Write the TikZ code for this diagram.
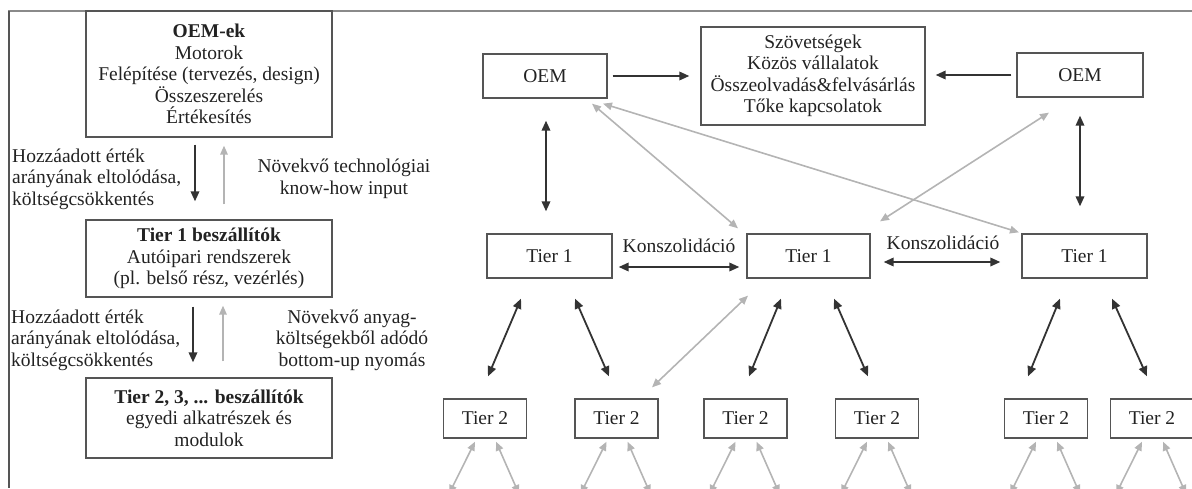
\documentclass[tikz,border=0pt]{standalone}
\usepackage{fontspec}
\setmainfont{Liberation Serif}
\usetikzlibrary{arrows.meta}
\definecolor{ink}{HTML}{222222}
\definecolor{dk}{HTML}{333333}
\definecolor{lg}{HTML}{B4B4B4}
\definecolor{bd}{HTML}{555555}
\definecolor{fr}{HTML}{8A8A8A}
\begin{document}
\begin{tikzpicture}[x=1pt,y=-1pt,
 txt/.style={text=ink,font=\fontsize{19.5}{21.5}\selectfont},
 box/.style={txt,draw=bd,line width=1.3pt,inner sep=0pt,align=center},
 lbl/.style={txt,inner sep=0pt},
 bt/.tip={Triangle[length=10pt,width=8.5pt]},
 gt/.tip={Triangle[length=9pt,width=7.5pt]},
 blkone/.style={draw=dk,line width=1.8pt,-bt},
 blkboth/.style={draw=dk,line width=1.8pt,bt-bt},
 gryone/.style={draw=lg,line width=1.6pt,-gt},
 gryboth/.style={draw=lg,line width=1.6pt,gt-gt}]
\useasboundingbox (0,0) rectangle (1192,488);
\clip (0,0) rectangle (1192,488);
% frame
\draw[fr,line width=2pt] (8,11) -- (1192,11);
\draw[bd,line width=2pt] (9,11) -- (9,488);
% left column
\node[box,minimum width=246pt,minimum height=126pt] (oemek) at (209,74)
 {\textbf{OEM-ek}\\Motorok\\Felépítése (tervezés, design)\\Összeszerelés\\Értékesítés};
\node[box,minimum width=246pt,minimum height=77pt] (t1b) at (209,258.5)
 {\textbf{Tier 1 beszállítók}\\Autóipari rendszerek\\(pl. belső rész, vezérlés)};
\node[box,minimum width=246pt,minimum height=80pt] (t2b) at (209,418)
 {\textbf{Tier 2, 3, ... beszállítók}\\egyedi alkatrészek és\\modulok};
\node[lbl,anchor=west,align=left] (l1) at (12,179)
 {Hozzáadott érték\\arányának eltolódása,\\költségcsökkentés};
\node[lbl,align=center] (r1) at (344,179)
 {Növekvő technológiai\\know-how input};
\node[lbl,anchor=west,align=left] (l2) at (11,340)
 {Hozzáadott érték\\arányának eltolódása,\\költségcsökkentés};
\node[lbl,align=center] (r2) at (352,340)
 {Növekvő anyag-\\költségekből adódó\\bottom-up nyomás};
\draw[blkone] ([shift={(-14,7)}]oemek.south) -- ([shift={(-14,-18)}]t1b.north);
\draw[gryone] ([shift={(15,-15)}]t1b.north) -- ([shift={(15,8)}]oemek.south);
\draw[blkone] ([shift={(-16,9)}]t1b.south) -- ([shift={(-16,-15)}]t2b.north);
\draw[gryone] ([shift={(14,-16)}]t2b.north) -- ([shift={(14,8)}]t1b.south);
% right network
\node[box,minimum width=124pt,minimum height=44pt] (oemL) at (545,76) {OEM};
\node[box,minimum width=224pt,minimum height=98pt] (szov) at (813,76)
 {Szövetségek\\Közös vállalatok\\Összeolvadás\&felvásárlás\\Tőke kapcsolatok};
\node[box,minimum width=126pt,minimum height=44pt] (oemR) at (1080,75) {OEM};
\node[box,minimum width=125pt,minimum height=44pt] (t1L) at (549.5,256) {Tier 1};
\node[box,minimum width=123pt,minimum height=44pt] (t1M) at (808.5,256) {Tier 1};
\node[box,minimum width=125pt,minimum height=44pt] (t1R) at (1084.5,256) {Tier 1};
\foreach \n/\c in {a/485,b/616.5,c/745.5,d/877,e/1046,f/1152}{
  \node[box,minimum width=83pt,minimum height=39pt] (t2\n) at (\c,418.5) {Tier 2};
  \coordinate (d\n1) at (\c-36,494);
  \coordinate (d\n2) at (\c+34,494);
  \draw[gryboth] ([shift={(-10,3)}]t2\n.south) -- (d\n1);
  \draw[gryboth] ([shift={(11,3)}]t2\n.south) -- (d\n2);
}
\node[lbl] (k1) at (679,246) {Konszolidáció};
\node[lbl] (k2) at (943,243) {Konszolidáció};
% black connectors
\draw[blkone] ([shift={(5,0)}]oemL.east) -- ([shift={(-11,0)}]szov.west);
\draw[blkone] ([shift={(-5,0)}]oemR.west) -- ([shift={(10,-1)}]szov.east);
\draw[blkboth] ([shift={(1,22)}]oemL.south) -- ([shift={(-3.5,-22)}]t1L.north);
\draw[blkboth] ([shift={(0,18)}]oemR.south) -- ([shift={(-4.5,-27)}]t1R.north);
\draw[blkboth] ([shift={(6,11)}]t1L.east) -- ([shift={(-7,11)}]t1M.west);
\draw[blkboth] ([shift={(13,6)}]t1M.east) -- ([shift={(-21,6)}]t1R.west);
\draw[blkboth] ([shift={(-28.5,20)}]t1L.south) -- ([shift={(3,-22)}]t2a.north);
\draw[blkboth] ([shift={(25.5,20)}]t1L.south) -- ([shift={(-7.5,-22)}]t2b.north);
\draw[blkboth] ([shift={(-27.5,20)}]t1M.south) -- ([shift={(3.5,-22)}]t2c.north);
\draw[blkboth] ([shift={(25.5,20)}]t1M.south) -- ([shift={(-9,-22)}]t2d.north);
\draw[blkboth] ([shift={(-24.5,20)}]t1R.south) -- ([shift={(-18,-22)}]t2e.north);
\draw[blkboth] ([shift={(27.5,20)}]t1R.south) -- ([shift={(-5,-22)}]t2f.north);
% gray connectors
\draw[gryboth] ([shift={(47,5)}]oemL.south) -- ([shift={(-70.5,-5)}]t1M.north);
\draw[gryboth] ([shift={(58,5)}]oemL.south) -- ([shift={(-65.5,-1)}]t1R.north);
\draw[gryboth] ([shift={(-31,15)}]oemR.south) -- ([shift={(71.5,-12)}]t1M.north);
\draw[gryboth] ([shift={(35.5,-11)}]t2b.north) -- ([shift={(-60.5,17)}]t1M.south);
\end{tikzpicture}
\end{document}
